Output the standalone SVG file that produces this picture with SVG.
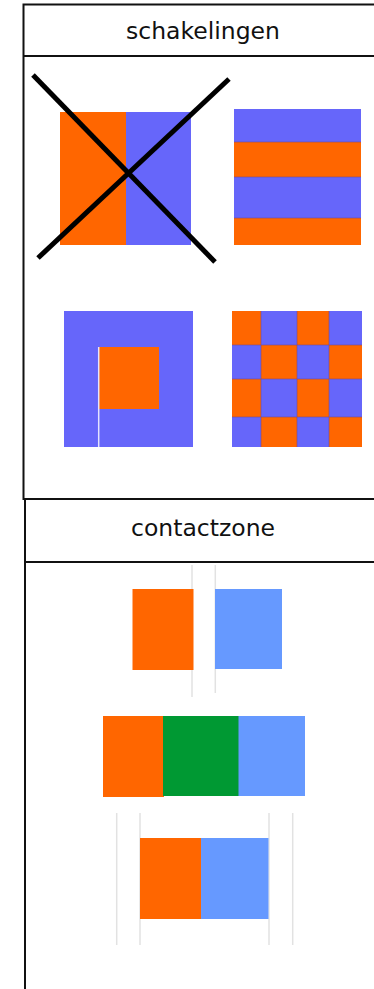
<svg xmlns="http://www.w3.org/2000/svg" width="374" height="989" viewBox="0 0 374 989">
<style>
.frame{fill:none;stroke:#111;stroke-width:2}
.lbl{font-family:"DejaVu Sans",Verdana,sans-serif;font-size:23.5px;fill:#111;text-anchor:middle}
.o{fill:#FF6600}
.b{fill:#6666FA}
.lb{fill:#6699FF}
.g{fill:#009933}
.sep{stroke:#7a4a8a;stroke-width:1;stroke-opacity:0.6}
.faint{stroke:#e2e2e2;stroke-width:1.5}
.x{stroke:#000;stroke-width:5;stroke-linecap:butt}
</style>
<rect width="374" height="989" fill="#fff"/>
<g id="table-schakelingen">
<path class="frame" d="M376 4.5H23.5V499H376M23.5 56H376"/>
<text class="lbl" x="203" y="38.5">schakelingen</text>
</g>
<g id="crossed-split">
<rect class="o" x="60" y="112" width="66" height="133"/>
<rect class="b" x="126" y="112" width="65" height="133"/>
<line class="x" x1="33" y1="75" x2="215" y2="262"/>
<line class="x" x1="38" y1="258" x2="229" y2="79"/>
</g>
<g id="stripes">
<rect class="b" x="234" y="109" width="127" height="33"/>
<rect class="o" x="234" y="142" width="127" height="35"/>
<rect class="b" x="234" y="177" width="127" height="41"/>
<rect class="o" x="234" y="218" width="127" height="27"/>
<path class="sep" d="M234 142H361M234 177H361M234 218H361"/>
</g>
<g id="inner-square">
<rect class="b" x="64" y="311" width="129" height="136"/>
<rect class="o" x="99" y="347" width="60" height="62"/>
<line x1="98.7" y1="347" x2="98.7" y2="447" stroke="#e4e4ff" stroke-width="1.5"/>
</g>
<g id="checker">
<rect class="b" x="232" y="311" width="130" height="136"/>
<rect class="o" x="232" y="311" width="29" height="34"/>
<rect class="o" x="297" y="311" width="32" height="34"/>
<rect class="o" x="261" y="345" width="36" height="34"/>
<rect class="o" x="329" y="345" width="33" height="34"/>
<rect class="o" x="232" y="379" width="29" height="38"/>
<rect class="o" x="297" y="379" width="32" height="38"/>
<rect class="o" x="261" y="417" width="36" height="30"/>
<rect class="o" x="329" y="417" width="33" height="30"/>
<path class="sep" d="M261 311V447M297 311V447M329 311V447M232 345H362M232 379H362M232 417H362"/>
</g>
<g id="table-contactzone">
<path class="frame" d="M376 499H25V989M25 562H376"/>
<text class="lbl" x="203" y="535.5">contactzone</text>
</g>
<g id="contact-separate">
<line class="faint" x1="192" y1="565" x2="192" y2="697"/>
<line class="faint" x1="215.3" y1="565" x2="215.3" y2="693"/>
<rect class="o" x="132.5" y="589" width="61" height="81"/>
<rect class="lb" x="215" y="589" width="67" height="80"/>
</g>
<g id="contact-middle">
<rect class="o" x="103" y="716" width="61" height="81"/>
<rect class="g" x="163" y="716" width="76" height="80"/>
<rect class="lb" x="238.5" y="716" width="66.5" height="80"/>
</g>
<g id="contact-joined">
<path class="faint" d="M116.7 813V945M140 813V945M269 813V945M292.7 813V945"/>
<rect class="o" x="140" y="838" width="61" height="81"/>
<rect class="lb" x="201" y="838" width="67.5" height="81"/>
</g>
</svg>
